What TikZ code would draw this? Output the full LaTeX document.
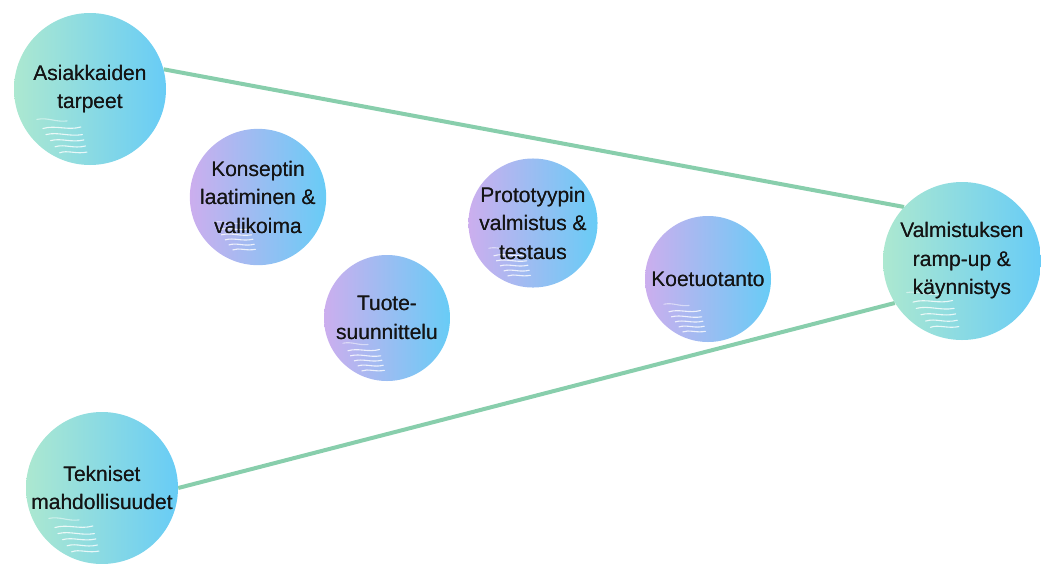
\documentclass[tikz,border=0pt]{standalone}
\usepackage{fontspec}
\setmainfont{Liberation Sans}
\usetikzlibrary{backgrounds}
\definecolor{mint}{RGB}{172,232,208}
\definecolor{sky}{RGB}{104,204,246}
\definecolor{lilac}{RGB}{204,174,238}
\definecolor{linkc}{RGB}{136,206,172}
\tikzset{
  blob/.style={circle, inner sep=0pt, align=center, text=black!92,
    font=\fontsize{21}{28.5}\selectfont},
  outer/.style={blob, minimum size=152pt, left color=mint, right color=sky},
  phase/.style={blob, minimum size=126pt, left color=lilac, right color=sky},
  bigphase/.style={blob, minimum size=158pt, left color=mint, right color=sky},
  link/.style={draw=linkc, line width=4pt},
  streak/.style={white, opacity=0.8, line width=1.1pt, line cap=round},
}
% white brush marks in the lower left of a round node: #1 node, #2 radius
\newcommand\brushmarks[2]{%
  \begin{scope}[shift={(#1.center)}, scale=#2]
    \clip (0,0) circle (1);
    \draw[streak] (-0.62,0.52) .. controls (-0.45,0.47) and (-0.3,0.55) .. (-0.12,0.5);
    \draw[streak] (-0.58,0.60) .. controls (-0.42,0.56) and (-0.28,0.63) .. (-0.10,0.60);
    \draw[streak] (-0.52,0.68) .. controls (-0.38,0.64) and (-0.25,0.71) .. (-0.08,0.67);
    \draw[streak] (-0.46,0.76) .. controls (-0.33,0.72) and (-0.22,0.79) .. (-0.06,0.75);
    \draw[streak] (-0.40,0.84) .. controls (-0.30,0.80) and (-0.18,0.86) .. (-0.04,0.83);
    \draw[streak, opacity=0.5] (-0.70,0.40) .. controls (-0.55,0.37) and (-0.45,0.44) .. (-0.30,0.42);
  \end{scope}}
\begin{document}
\begin{tikzpicture}[x=1pt, y=-1pt]
  \useasboundingbox (0,0) rectangle (1041,563);

  \node[outer] (needs) at (90,89) {Asiakkaiden\\tarpeet};
  \node[outer] (tech) at (102,488) {Tekniset\\mahdollisuudet};
  \node[bigphase] (ramp) at (962,261) {Valmistuksen\\ramp-up \&\\käynnistys};
  \node[phase] (concept) at (258,197) {Konseptin\\laatiminen \&\\valikoima};
  \node[phase] (design) at (387,318) {Tuote-\\suunnittelu};
  \node[phase] (proto) at (533,223) {Prototyypin\\valmistus \&\\testaus};
  \node[phase] (pilot) at (708,279) {Koetuotanto};

  \begin{scope}[on background layer]
    \draw[link] (needs.15) -- (ramp.137);
    \draw[link] (tech.0) -- (ramp.212);
  \end{scope}

  \brushmarks{needs}{76}
  \brushmarks{tech}{76}
  \brushmarks{ramp}{79}
  \brushmarks{concept}{63}
  \brushmarks{design}{63}
  \brushmarks{proto}{63}
  \brushmarks{pilot}{63}

  % labels again above the brush marks
  \node[blob] at (needs) {Asiakkaiden\\tarpeet};
  \node[blob] at (tech) {Tekniset\\mahdollisuudet};
  \node[blob] at (ramp) {Valmistuksen\\ramp-up \&\\käynnistys};
  \node[blob] at (concept) {Konseptin\\laatiminen \&\\valikoima};
  \node[blob] at (design) {Tuote-\\suunnittelu};
  \node[blob] at (proto) {Prototyypin\\valmistus \&\\testaus};
  \node[blob] at (pilot) {Koetuotanto};
\end{tikzpicture}
\end{document}
